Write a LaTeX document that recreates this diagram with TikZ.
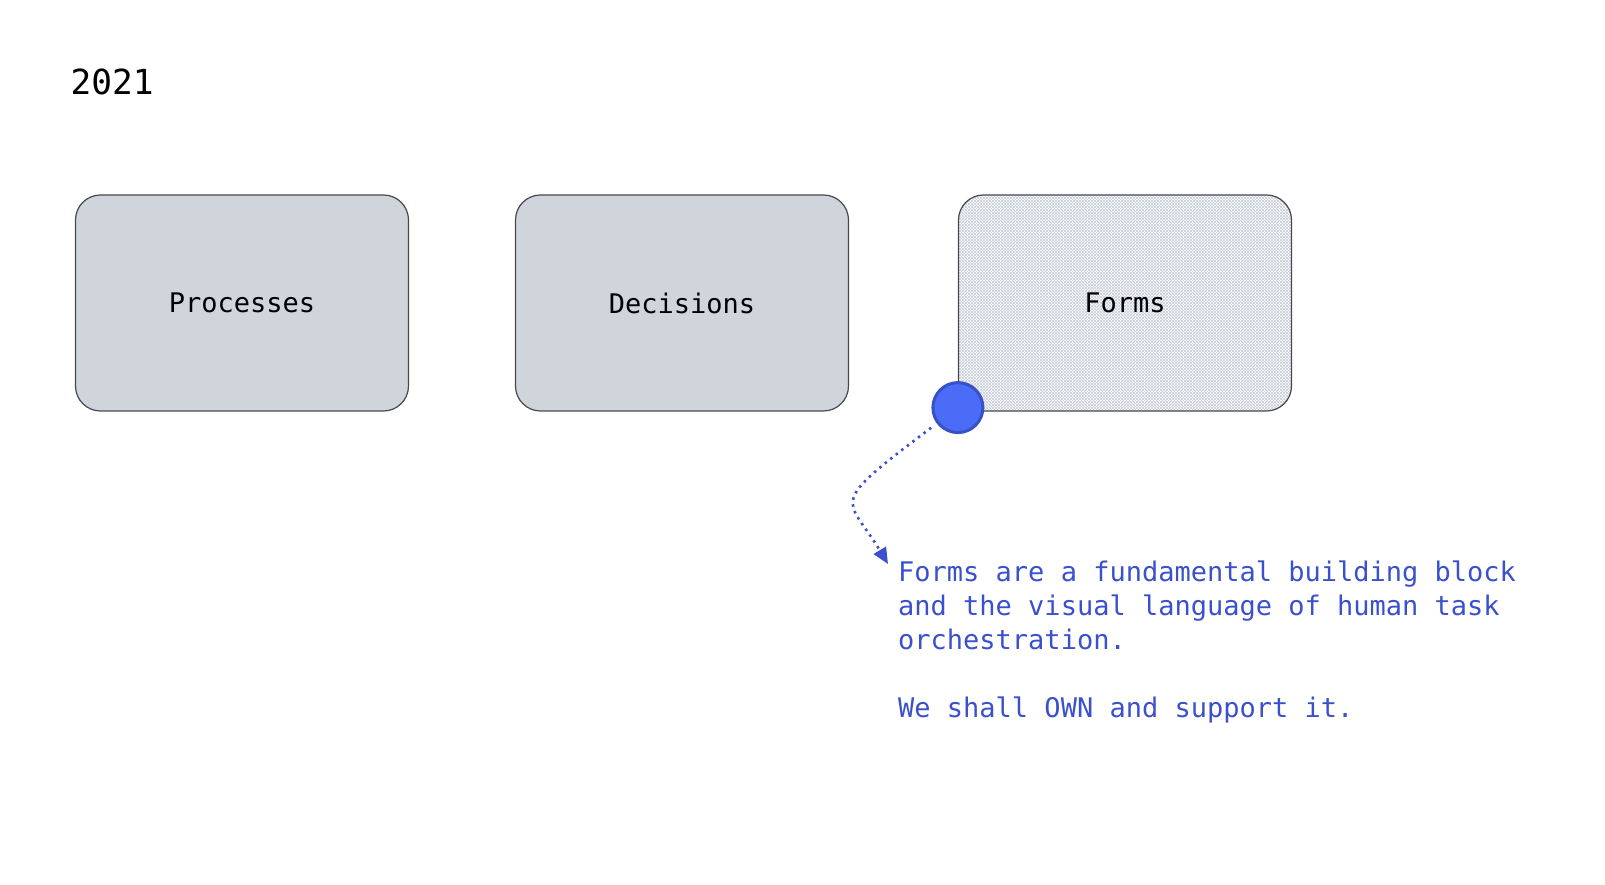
\documentclass[tikz,border=0pt]{standalone}
\usepackage{fontspec}
\setmonofont{DejaVu Sans Mono}
\usepackage{xcolor}
\usetikzlibrary{positioning, arrows.meta, patterns}
\definecolor{boxgray}{RGB}{208,213,220}
\definecolor{boxline}{RGB}{70,72,78}
\definecolor{hatchgray}{RGB}{200,205,215}
\definecolor{notetext}{RGB}{58,80,204}
\definecolor{dotfill}{RGB}{74,108,246}
\definecolor{dotline}{RGB}{56,80,200}
\tikzstyle{block} = [rectangle, rounded corners=25pt, minimum width=333pt, minimum height=216pt, text centered, draw=boxline, line width=1.2pt, fill=boxgray, font=\ttfamily\fontsize{27}{31}\selectfont]
\tikzstyle{hatched} = [block, preaction={fill=white}, preaction={pattern=north east lines, pattern color=hatchgray}, pattern=north west lines, pattern color=hatchgray]
\tikzstyle{handle} = [circle, minimum size=50pt, inner sep=0pt, draw=dotline, line width=3pt, fill=dotfill]
\tikzstyle{note} = [align=left, inner sep=0pt, text=notetext, font=\ttfamily\fontsize{27}{33.8}\selectfont]
\tikzstyle{arrow} = [draw=notetext, line width=2.6pt, dash pattern=on 2.5pt off 4.5pt, shorten <=7pt, ->, >={Triangle[length=16pt,width=14pt]}]

\begin{document}
\begin{tikzpicture}[x=1pt, y=1pt, node distance=440pt]
    \useasboundingbox (0,0) rectangle (1605,885);
    \node (year) [anchor=base west, font=\ttfamily\fontsize{34.5}{40}\selectfont] at (67,790) {2021};
    \node (processes) [block] at (242,582) {Processes};
    \node (decisions) [block, right of=processes] {Decisions};
    \node (forms) [hatched, right of=decisions, xshift=3pt] {Forms};
    \node (handle) [handle] at ([yshift=4pt]forms.south west) {};
    \node (note) [note, anchor=north west] at (898,324) {Forms are a fundamental building block\\and the visual language of human task\\orchestration.\\[33.8pt]We shall OWN and support it.};

    \draw [arrow] (handle.217) .. controls +(217:140) and +(121:80) .. ([xshift=-10pt,yshift=-3pt]note.north west);
\end{tikzpicture}
\end{document}
